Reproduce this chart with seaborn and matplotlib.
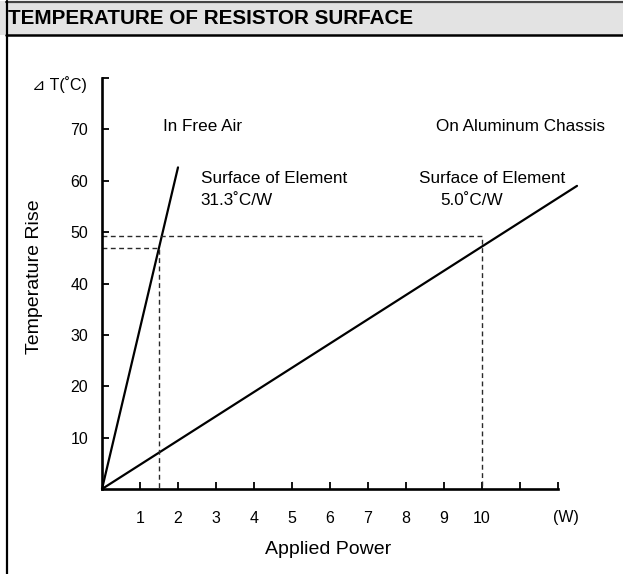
import matplotlib
matplotlib.use("Agg")
import matplotlib.pyplot as plt
from matplotlib.patches import Rectangle
from matplotlib.lines import Line2D
import seaborn as sns
import pandas as pd

# === Dados
power_free_air = [0.0, 2.0]
rise_free_air = [0.0, 62.6]
power_chassis = [0.0, 12.5]
rise_chassis = [0.0, 59.0]

x_ticks = [1, 2, 3, 4, 5, 6, 7, 8, 9, 10, 11, 12]
x_tick_labels = ["1", "2", "3", "4", "5", "6", "7", "8", "9", "10", "", ""]
y_ticks = [10, 20, 30, 40, 50, 60, 70, 80]
y_tick_labels = ["10", "20", "30", "40", "50", "60", "70", ""]

# pontos de leitura (linhas tracejadas)
read_free_air = (1.5, 47.0)
read_chassis = (10.0, 49.3)

# === Estilo
sns.set_theme(style="ticks")
plt.rcParams["font.family"] = ["Liberation Sans", "DejaVu Sans"]
plt.rcParams["text.color"] = "black"
plt.rcParams["xtick.color"] = "black"
plt.rcParams["ytick.color"] = "black"

W, H = 623, 574
fig = plt.figure(figsize=(W / 100, H / 100), dpi=100)

# === Moldura e faixa do título
fig.patches.append(Rectangle((0, 1 - 35 / H), 1, 34 / H, transform=fig.transFigure,
                             facecolor="#e3e3e3", edgecolor="none", zorder=0))
fig.lines.append(Line2D([6 / W, 1], [1 - 1.5 / H, 1 - 1.5 / H], transform=fig.transFigure,
                        color="#444444", lw=1.6))
fig.lines.append(Line2D([6 / W, 1], [1 - 35 / H, 1 - 35 / H], transform=fig.transFigure,
                        color="black", lw=1.8))
fig.lines.append(Line2D([6.5 / W, 6.5 / W], [0, 1 - 1 / H], transform=fig.transFigure,
                        color="black", lw=1.6))
fig.text(8 / W, 1 - 18 / H, "TEMPERATURE OF RESISTOR SURFACE", fontsize=14.9,
         fontweight="bold", va="center", ha="left")

# === Eixo
ax = fig.add_axes([102 / W, 1 - 489 / H, 456 / W, 411 / H])
df_free = pd.DataFrame({"P": power_free_air, "T": rise_free_air})
df_chas = pd.DataFrame({"P": power_chassis, "T": rise_chassis})
sns.lineplot(data=df_free, x="P", y="T", ax=ax, color="black", lw=1.6, clip_on=False)
sns.lineplot(data=df_chas, x="P", y="T", ax=ax, color="black", lw=1.6, clip_on=False)

dash = dict(color="#2a2a2a", lw=1.0, linestyle=(0, (3.5, 2.5)))
ax.plot([0, read_chassis[0], read_chassis[0]], [read_chassis[1], read_chassis[1], 0], **dash)
ax.plot([0, read_free_air[0], read_free_air[0]], [read_free_air[1], read_free_air[1], 0], **dash)

ax.set_xlim(0, 12)
ax.set_ylim(0, 80)
ax.set_xticks(x_ticks)
ax.set_xticklabels(x_tick_labels)
ax.set_yticks(y_ticks)
ax.set_yticklabels(y_tick_labels)
ax.tick_params(axis="both", direction="in", length=5, width=1.3, labelsize=11.5, color="black")
ax.tick_params(axis="x", pad=16)
ax.tick_params(axis="y", pad=10)
for s in ["top", "right"]:
    ax.spines[s].set_visible(False)
for s in ["left", "bottom"]:
    ax.spines[s].set_linewidth(1.9)
    ax.spines[s].set_color("black")
ax.set_xlabel("")
ax.set_ylabel("")
ax.patch.set_alpha(0)

# === Textos
fs = 12.3
ax.text(12.2, -5.5, "(W)", fontsize=11.5, ha="center", va="center")
fig.text(328 / W, 1 - 550 / H, "Applied Power", fontsize=14, ha="center", va="center")
fig.text(35 / W, 1 - 277 / H, "Temperature Rise", fontsize=14, rotation=90,
         ha="center", va="center")
fig.text(59 / W, 1 - 85 / H, "⊿ T(˚C)", fontsize=11.5, ha="center", va="center")
ax.text(1.6, 70.5, "In Free Air", fontsize=fs, va="center")
ax.text(8.8, 70.5, "On Aluminum Chassis", fontsize=fs, va="center")
ax.text(2.6, 60.5, "Surface of Element", fontsize=fs, va="center")
ax.text(2.6, 56.2, "31.3˚C/W", fontsize=fs, va="center")
ax.text(8.35, 60.5, "Surface of Element", fontsize=fs, va="center")
ax.text(8.9, 56.2, "5.0˚C/W", fontsize=fs, va="center")

fig.savefig("out.png", dpi=100)
